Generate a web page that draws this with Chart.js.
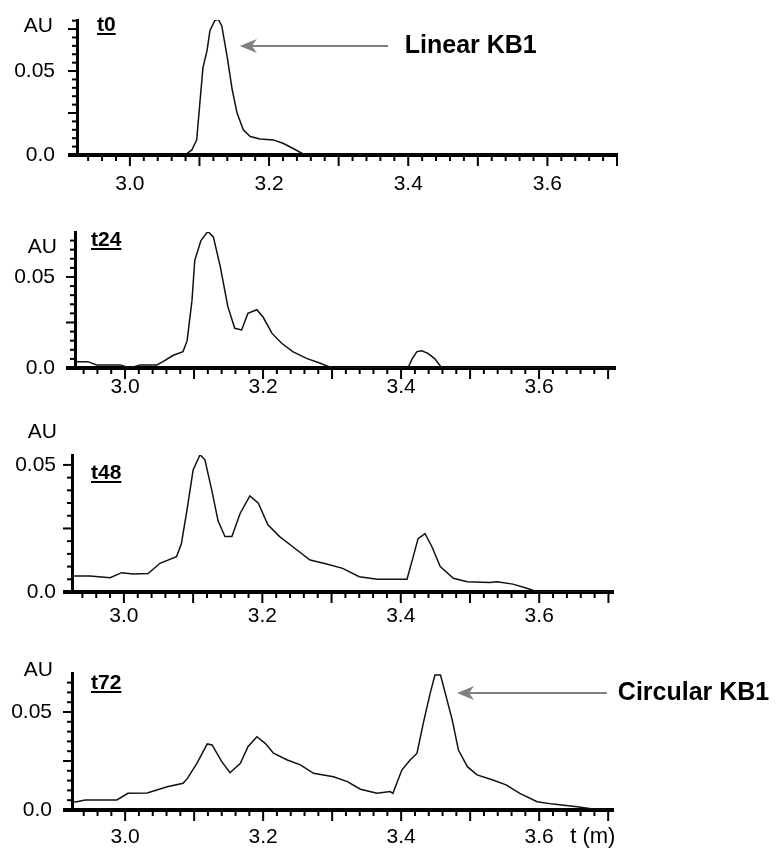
<!DOCTYPE html>
<html>
<head>
<meta charset="utf-8">
<script src="https://cdn.jsdelivr.net/npm/chart.js@4/dist/chart.umd.min.js"></script>
<style>
  html, body { margin: 0; padding: 0; background: #fff; }
  #wrap { position: relative; width: 779px; height: 854px; }
  canvas { position: absolute; left: 0; }
</style>
</head>
<body>
<div id="wrap">
  <canvas id="p0" width="779" height="200" style="top:0px"></canvas>
  <canvas id="p1" width="779" height="205" style="top:200px"></canvas>
  <canvas id="p2" width="779" height="235" style="top:405px"></canvas>
  <canvas id="p3" width="779" height="214" style="top:640px"></canvas>
</div>
<script>
// chromatogram traces (time in min, absorbance in AU)
const t0Time = [2.924, 3.079, 3.089, 3.096, 3.101, 3.105, 3.111, 3.115, 3.122, 3.127, 3.132, 3.140, 3.147, 3.154, 3.163, 3.173, 3.187, 3.206, 3.220, 3.234, 3.249, 3.253, 3.70];
const t0Abs  = [0, 0, 0.003, 0.009, 0.033, 0.052, 0.0625, 0.074, 0.080, 0.0808, 0.077, 0.058, 0.039, 0.025, 0.015, 0.011, 0.0095, 0.009, 0.007, 0.004, 0.0006, 0, 0];

const t24Time = [2.9275, 2.946, 2.959, 2.993, 3.007, 3.022, 3.046, 3.055, 3.070, 3.084, 3.090, 3.097, 3.101, 3.110, 3.120, 3.128, 3.138, 3.149, 3.159, 3.169, 3.178, 3.191, 3.200, 3.213, 3.227, 3.243, 3.263, 3.283, 3.300, 3.410, 3.416, 3.423, 3.430, 3.439, 3.449, 3.459, 3.71];
const t24Abs  = [0.0035, 0.0035, 0.0017, 0.0017, 0, 0.0017, 0.0017, 0.0035, 0.007, 0.009, 0.015, 0.037, 0.059, 0.070, 0.075, 0.072, 0.0557, 0.0337, 0.0218, 0.0209, 0.030, 0.032, 0.028, 0.019, 0.0136, 0.009, 0.0053, 0.0026, 0, 0, 0.005, 0.009, 0.0095, 0.008, 0.005, 0, 0];

const t48Time = [2.925, 2.934, 2.951, 2.980, 2.997, 3.013, 3.035, 3.052, 3.076, 3.083, 3.091, 3.100, 3.110, 3.117, 3.127, 3.136, 3.146, 3.156, 3.168, 3.182, 3.194, 3.208, 3.225, 3.244, 3.269, 3.293, 3.316, 3.340, 3.366, 3.409, 3.418, 3.425, 3.435, 3.445, 3.457, 3.476, 3.496, 3.529, 3.539, 3.562, 3.582, 3.598, 3.7066];
const t48Abs  = [0.0063, 0.0063, 0.0063, 0.0056, 0.0076, 0.0071, 0.0073, 0.0113, 0.0139, 0.019, 0.032, 0.048, 0.054, 0.052, 0.040, 0.028, 0.0218, 0.0218, 0.031, 0.0378, 0.035, 0.0264, 0.0218, 0.0178, 0.0126, 0.011, 0.0093, 0.006, 0.005, 0.005, 0.0139, 0.021, 0.023, 0.0178, 0.010, 0.0054, 0.004, 0.0037, 0.004, 0.0031, 0.0015, 0, 0];

const t72Time = [2.923, 2.930, 2.942, 2.988, 3.004, 3.032, 3.061, 3.084, 3.090, 3.104, 3.119, 3.126, 3.140, 3.152, 3.167, 3.178, 3.191, 3.203, 3.215, 3.235, 3.254, 3.273, 3.302, 3.322, 3.341, 3.365, 3.384, 3.388, 3.401, 3.413, 3.423, 3.432, 3.442, 3.449, 3.457, 3.464, 3.474, 3.483, 3.496, 3.510, 3.533, 3.552, 3.572, 3.597, 3.620, 3.655, 3.678, 3.700, 3.707];
const t72Abs  = [0.0042, 0.0042, 0.0051, 0.0051, 0.0085, 0.0087, 0.0119, 0.0136, 0.016, 0.0238, 0.0337, 0.0332, 0.0247, 0.019, 0.0238, 0.0323, 0.0374, 0.034, 0.029, 0.0255, 0.023, 0.0187, 0.017, 0.0145, 0.0106, 0.0085, 0.0094, 0.0085, 0.0204, 0.0255, 0.029, 0.0442, 0.0595, 0.0689, 0.0689, 0.0595, 0.046, 0.0306, 0.0221, 0.0179, 0.0153, 0.0128, 0.0085, 0.0042, 0.003, 0.0017, 0.0005, 0, 0];

const panelNames = ['t0', 't24', 't48', 't72'];
const xTickLabels = ['3.0', '3.2', '3.4', '3.6'];
const yTickValues = [0, 0.05];
const yTickLabels = ['0.0', '0.05'];
const peakNames = ['Linear KB1', 'Circular KB1'];

const FONT = "'Liberation Sans', Arial, sans-serif";
const X_STEP = 0.02, X_MAJOR = 0.1;     // minor / major x tick spacing
const Y_STEP = 0.005, Y_MAJOR = 0.025;  // minor / major y tick spacing

const onStep = (v, s) => Math.abs(v / s - Math.round(v / s)) < 1e-6;

// regular ticks between the axis bounds, no extra ticks at min/max
function stepTicks(scale, step) {
  const out = [];
  const k0 = Math.ceil(scale.min / step - 1e-6), k1 = Math.floor(scale.max / step + 1e-6);
  for (let k = k0; k <= k1; k++) out.push({ value: Math.round(k * step * 10000) / 10000 });
  scale.ticks = out;
}

const tickMarks = {
  id: 'tickMarks',
  afterDraw(chart) {
    const ctx = chart.ctx, xs = chart.scales.x, ys = chart.scales.y, a = chart.chartArea;
    ctx.save();
    ctx.strokeStyle = '#000';
    xs.ticks.forEach(t => {
      const px = xs.getPixelForValue(t.value);
      const len = onStep(t.value, X_MAJOR) ? 11 : 6;
      ctx.lineWidth = 2;
      ctx.beginPath(); ctx.moveTo(px, a.bottom); ctx.lineTo(px, a.bottom + len); ctx.stroke();
    });
    ys.ticks.forEach(t => {
      const py = ys.getPixelForValue(t.value);
      const len = onStep(t.value, Y_MAJOR) ? 9 : 5;
      ctx.lineWidth = t.value === 0 ? 4 : 2;
      ctx.beginPath(); ctx.moveTo(a.left, py); ctx.lineTo(a.left - len, py); ctx.stroke();
    });
    ctx.restore();
  }
};

const panelText = {
  id: 'panelText',
  afterDraw(chart, args, o) {
    const ctx = chart.ctx, xs = chart.scales.x, ys = chart.scales.y, a = chart.chartArea;
    ctx.save();
    ctx.fillStyle = '#000';
    ctx.textBaseline = 'middle';
    // AU
    ctx.font = '21px ' + FONT;
    ctx.textAlign = 'right';
    ctx.fillText('AU', a.left - o.auGap, ys.getPixelForValue(o.auY));
    // panel name, bold underlined
    ctx.font = 'bold 21px ' + FONT;
    ctx.textAlign = 'left';
    const nx = a.left + o.nameDx, ny = a.top + o.nameDy;
    ctx.fillText(o.name, nx, ny);
    const w = ctx.measureText(o.name).width;
    ctx.fillRect(nx, ny + 8, w, 2);
    // arrow + peak name
    if (o.arrow) {
      const hx = xs.getPixelForValue(o.arrow.head), tx = xs.getPixelForValue(o.arrow.tail);
      const y = ys.getPixelForValue(o.arrow.y);
      ctx.strokeStyle = '#808080';
      ctx.fillStyle = '#808080';
      ctx.lineWidth = 2;
      ctx.beginPath(); ctx.moveTo(hx + 10, y); ctx.lineTo(tx, y); ctx.stroke();
      ctx.beginPath();
      ctx.moveTo(hx, y); ctx.lineTo(hx + 17, y - 7); ctx.lineTo(hx + 12, y); ctx.lineTo(hx + 17, y + 7);
      ctx.closePath(); ctx.fill();
      ctx.fillStyle = '#000';
      ctx.font = 'bold 25px ' + FONT;
      ctx.fillText(o.arrow.label, xs.getPixelForValue(o.arrow.text), y);
    }
    if (o.unit) {
      ctx.font = '22px ' + FONT;
      ctx.fillStyle = '#000';
      ctx.fillText('t (m)', xs.getPixelForValue(o.unit), a.bottom + 27);
    }
    ctx.restore();
  }
};

function xLabel(v) {
  if (!onStep(v, X_MAJOR)) return '';
  const s = v.toFixed(1);
  return xTickLabels.includes(s) ? s : '';
}
function yLabel(v) {
  const i = yTickValues.findIndex(t => Math.abs(t - v) < 1e-9);
  return i >= 0 ? yTickLabels[i] : '';
}

function noPad(s) { s.paddingLeft = s.paddingRight = s.paddingTop = s.paddingBottom = 0; }

function makePanel(id, L, time, abs, text) {
  const points = time.map((t, i) => ({ x: t, y: abs[i] }));
  const xh = L.xPad + 28;
  new Chart(document.getElementById(id), {
    type: 'line',
    data: {
      datasets: [{ data: points, borderColor: '#111', borderWidth: 1.5, pointRadius: 0, tension: 0, fill: false }]
    },
    options: {
      responsive: false,
      animation: false,
      devicePixelRatio: 1,
      layout: {
        padding: {
          left: 2,
          right: 779 - L.right,
          top: L.top - L.canvasTop,
          bottom: L.canvasTop + L.height - L.bottom - xh
        }
      },
      plugins: { legend: { display: false }, tooltip: { enabled: false }, panelText: text },
      scales: {
        x: {
          type: 'linear', min: L.xMin, max: L.xMax,
          afterBuildTicks: s => stepTicks(s, X_STEP),
          afterFit: s => { s.height = xh; noPad(s); },
          grid: { display: false, drawTicks: false },
          border: { display: true, color: '#000', width: 4 },
          ticks: { autoSkip: false, maxRotation: 0, padding: L.xPad, color: '#000',
                   font: { family: FONT, size: 21 }, callback: xLabel }
        },
        y: {
          type: 'linear', min: 0, max: L.yMax,
          afterBuildTicks: s => stepTicks(s, Y_STEP),
          afterFit: s => { s.width = L.left - 2; noPad(s); },
          grid: { display: false, drawTicks: false },
          border: { display: true, color: '#000', width: 3 },
          ticks: { autoSkip: false, padding: L.yPad, color: '#000',
                   font: { family: FONT, size: 21 }, callback: yLabel }
        }
      }
    },
    plugins: [tickMarks, panelText]
  });
}

makePanel('p0', { canvasTop: 0, height: 200, left: 77, right: 617, top: 20, bottom: 155, xMin: 2.924, xMax: 3.70, yMax: 0.0804, xPad: 17, yPad: 22 },
  t0Time, t0Abs,
  { name: panelNames[0], auY: 0.077, auGap: 24, nameDx: 20, nameDy: 5,
    arrow: { head: 3.158, tail: 3.371, y: 0.0649, text: 3.395, label: peakNames[0] } });

makePanel('p1', { canvasTop: 200, height: 205, left: 75, right: 615, top: 232, bottom: 368, xMin: 2.9275, xMax: 3.71, yMax: 0.0747, xPad: 7, yPad: 20 },
  t24Time, t24Abs,
  { name: panelNames[1], auY: 0.0665, auGap: 18, nameDx: 16, nameDy: 8 });

makePanel('p2', { canvasTop: 405, height: 235, left: 72, right: 613, top: 455, bottom: 592, xMin: 2.925, xMax: 3.7066, yMax: 0.0539, xPad: 12, yPad: 16 },
  t48Time, t48Abs,
  { name: panelNames[2], auY: 0.063, auGap: 15, nameDx: 19, nameDy: 18 });

makePanel('p3', { canvasTop: 640, height: 214, left: 72, right: 613, top: 673, bottom: 810, xMin: 2.923, xMax: 3.707, yMax: 0.0699, xPad: 15, yPad: 20 },
  t72Time, t72Abs,
  { name: panelNames[3], auY: 0.0714, auGap: 19, nameDx: 19, nameDy: 10,
    arrow: { head: 3.481, tail: 3.698, y: 0.0597, text: 3.714, label: peakNames[1] },
    unit: 3.645 });
</script>
</body>
</html>
